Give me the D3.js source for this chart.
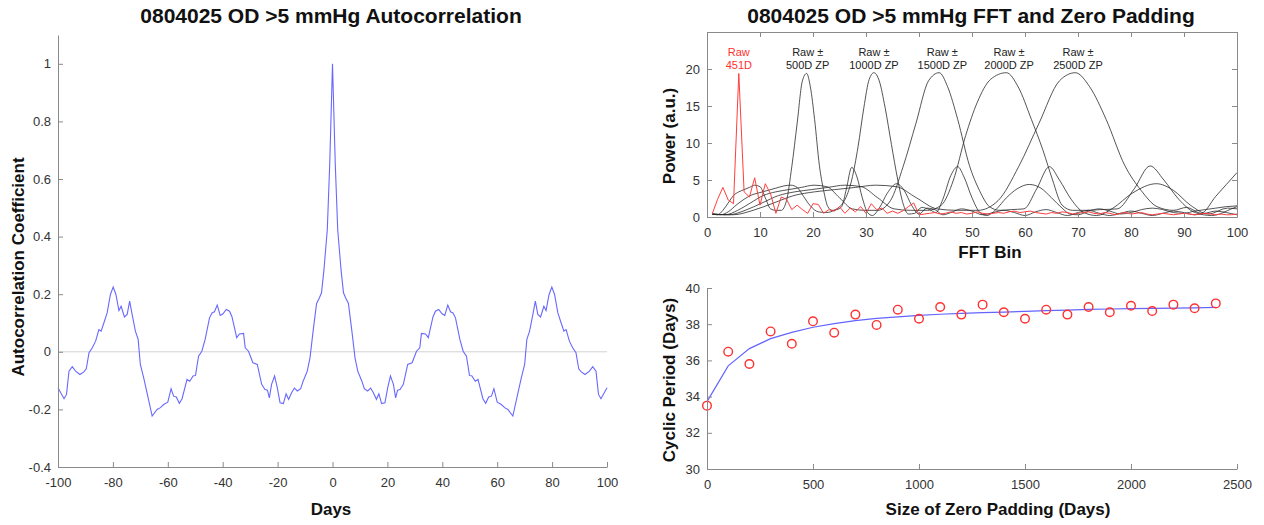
<!DOCTYPE html>
<html>
<head>
<meta charset="utf-8">
<script src="https://cdn.jsdelivr.net/npm/d3@7"></script>
<style>
body { margin: 0; background: #fff; }
text { font-family: "Liberation Sans", Arial, Helvetica, sans-serif; }
.axis path, .axis line { stroke: #8a8a8a; }
.axis text { fill: #333; font-size: 13px; }
.title { font-weight: bold; font-size: 21px; fill: #111; }
.label { font-weight: bold; font-size: 17px; fill: #111; }
.note { font-size: 11px; fill: #222; }
</style>
</head>
<body>
<div id="chart"></div>
<script>
// autocorrelation (days, coefficient)
const acfDays = [-100, -97.8, -96.9, -96, -94.8, -93.6, -92, -90.6, -89.7, -88.7, -87.5, -86.3, -85.1, -84.3, -83.3, -82.1,
    -80.9, -79.9, -78.9, -77.8, -77, -75.8, -74.8, -73.9, -73, -71.8, -70.8, -70, -68.8, -67.3, -65.7, -63.9, -62.7, -61.5,
    -60, -58.8, -57.9, -56.9, -55.8, -54.8, -53, -52, -50.8, -49.9, -48.8, -47.6, -46.4, -44.8, -43.9, -43, -42, -40.9,
    -39.9, -38.7, -37.5, -36.6, -34.9, -33.9, -32.4, -31.8, -30.6, -29, -27.4, -25.8, -24.6, -23.7, -23, -22.2, -21.1,
    -20.1, -19.1, -17.9, -16.9, -16, -14.9, -13.9, -12.8, -11.6, -10.7, -9.2, -8.2, -7, -5.8, -4.8, -4, -3.1, -1.9, -1, 0,
    1, 1.9, 3.1, 4, 4.8, 5.8, 7, 8.2, 9.2, 10.7, 11.6, 12.8, 13.9, 14.9, 16, 16.9, 17.9, 19.1, 20.1, 21.1, 22.2, 23, 23.7,
    24.6, 25.8, 27.4, 29, 30.6, 31.8, 32.4, 33.9, 34.9, 36.6, 37.5, 38.7, 39.9, 40.9, 42, 43, 43.9, 44.8, 46.4, 47.6, 48.8,
    49.9, 50.8, 52, 53, 54.8, 55.8, 56.9, 57.9, 58.8, 60, 61.5, 62.7, 63.9, 65.7, 67.3, 68.8, 70, 70.8, 71.8, 73, 73.9,
    74.8, 75.8, 77, 77.8, 78.9, 79.9, 80.9, 82.1, 83.3, 84.3, 85.1, 86.3, 87.5, 88.7, 89.7, 90.6, 92, 93.6, 94.8, 96,
    96.9, 97.8, 100];
const acfValues = [-0.125, -0.163, -0.148, -0.067, -0.052, -0.067, -0.079, -0.07, -0.059, -0.003, 0.014, 0.037, 0.077,
    0.072, 0.1, 0.135, 0.199, 0.225, 0.199, 0.143, 0.158, 0.121, 0.13, 0.176, 0.13, 0.072, 0.043, -0.044, -0.09, -0.154,
    -0.223, -0.2, -0.194, -0.183, -0.175, -0.128, -0.154, -0.157, -0.179, -0.163, -0.096, -0.102, -0.084, -0.082, -0.015,
    0.002, 0.043, 0.118, 0.135, 0.139, 0.162, 0.126, 0.132, 0.147, 0.141, 0.121, 0.049, 0.062, 0.064, 0.014, 0.002,
    -0.038, -0.044, -0.113, -0.131, -0.133, -0.16, -0.113, -0.084, -0.125, -0.177, -0.18, -0.146, -0.165, -0.142, -0.126,
    -0.136, -0.128, -0.102, -0.067, -0.021, 0.077, 0.168, 0.187, 0.205, 0.286, 0.424, 0.655, 1.0,
    0.655, 0.424, 0.286, 0.205, 0.187, 0.168, 0.077, -0.021, -0.067, -0.102, -0.128, -0.136, -0.126, -0.142, -0.165,
    -0.146, -0.18, -0.177, -0.125, -0.084, -0.113, -0.16, -0.133, -0.131, -0.113, -0.044, -0.038, 0.002, 0.014, 0.064,
    0.062, 0.049, 0.121, 0.141, 0.147, 0.132, 0.126, 0.162, 0.139, 0.135, 0.118, 0.043, 0.002, -0.015, -0.082, -0.084,
    -0.102, -0.096, -0.163, -0.179, -0.157, -0.154, -0.128, -0.175, -0.183, -0.194, -0.2, -0.223, -0.154, -0.09, -0.044,
    0.043, 0.072, 0.13, 0.176, 0.13, 0.121, 0.158, 0.143, 0.199, 0.225, 0.199, 0.135, 0.1, 0.072, 0.077, 0.037, 0.014,
    -0.003, -0.059, -0.07, -0.079, -0.067, -0.052, -0.067, -0.148, -0.163, -0.125];
const acfTicksX = [-100, -80, -60, -40, -20, 0, 20, 40, 60, 80, 100];
const acfTicksY = [-0.4, -0.2, 0, 0.2, 0.4, 0.6, 0.8, 1];

// raw FFT, bins 1..100
const rawPower = [0.45, 2.4, 4.0, 2.3, 1.8, 19.4, 3.4, 2.7, 5.3, 1.6,
    4.5, 3.1, 0.5, 2.7, 2.4, 1.0, 1.6, 1.0, 0.5, 1.8,
    1.7, 0.5, 1.0, 0.8, 1.4, 0.5, 1.2, 0.7, 1.4, 0.5,
    1.8, 1.0, 1.2, 0.5, 0.8, 0.5, 0.85, 1.4, 1.9, 0.3,
    0.4, 0.5, 0.6, 0.4, 0.5, 0.7, 0.5, 0.6, 0.4, 0.5,
    0.7, 0.5, 0.4, 0.5, 0.6, 0.5, 0.7, 0.8, 0.6, 0.7,
    0.8, 0.6, 0.5, 0.4, 0.6, 0.5, 0.7, 0.6, 0.4, 0.5,
    0.6, 0.7, 0.5, 0.4, 0.6, 0.5, 0.3, 0.5, 0.6, 0.4,
    0.5, 0.6, 0.4, 0.3, 0.4, 0.5, 0.4, 0.3, 0.4, 0.5,
    0.4, 0.3, 0.4, 0.5, 0.4, 0.3, 0.4, 0.3, 0.3, 0.4];

// zero padded spectra [bin, power]
const zp500 = [[1, 0.4], [2, 0.3], [3, 0.9], [4, 1.9], [5, 2.9], [6, 3.4], [7, 3.7], [8, 4.0], [9, 4.3], [10, 4.1],
    [11, 2.6], [12, 1.1], [13, 0.9], [14, 0.9], [15, 2.2], [16, 6.8], [17, 12.6], [18, 18.4], [18.8, 19.4], [19.5, 17.6],
    [20.3, 13.2], [21.2, 7.0], [22, 3.6], [22.8, 1.4], [23.6, 0.9], [24.5, 1.0], [25.4, 1.4], [26.3, 3.8], [27.3, 6.7],
    [28.3, 5.4], [29.3, 2.6], [30.3, 0.6], [31.2, 0.2], [32.5, 1.2], [34, 3.2], [35.8, 4.5], [37.2, 3.6], [38.6, 1.6],
    [40, 0.4], [41.5, 1.2], [43, 1.0], [44.5, 0.3], [46, 0.6], [48, 1.1], [50, 0.8], [52, 0.3], [54, 0.6], [56, 0.9],
    [58, 0.6], [60, 0.2], [62, 0.7], [64, 1.0], [66, 0.6], [68, 0.2], [70, 0.6], [72, 0.9], [74, 0.5], [76, 0.2],
    [78, 0.5], [80, 0.8], [82, 0.5], [84, 0.2], [86, 0.5], [88, 0.8], [90, 0.6], [92, 0.3], [94, 0.5], [96, 0.8],
    [98, 0.6], [100, 0.3]];
const zp1000 = [[1, 0.4], [2.5, 0.3], [4, 0.7], [5.5, 1.6], [7, 2.4], [8.5, 3.0], [10, 3.3], [11.5, 3.6], [13, 3.9],
    [14.5, 4.2], [15.8, 4.3], [17, 4.0], [18.2, 2.8], [19.5, 1.5], [21, 0.7], [22.5, 0.6], [24, 0.9], [25.2, 1.5],
    [26.2, 2.6], [27.3, 5.0], [28.5, 9.5], [29.6, 14.8], [30.6, 18.6], [31.5, 19.5], [32.5, 18.4], [33.6, 14.8],
    [34.8, 9.8], [36, 5.0], [37, 1.8], [38, 0.4], [39.2, 0.5], [40.5, 1.3], [42, 1.0], [43.2, 0.6], [44.5, 2.4],
    [46, 5.6], [47.3, 6.8], [48.5, 5.4], [50, 2.6], [51.5, 0.6], [52.8, 0.2], [54.5, 1.0], [56.5, 2.6], [58.5, 3.8],
    [60.8, 4.4], [63, 3.9], [65, 2.6], [67, 1.2], [68.5, 0.4], [70, 0.3], [72, 0.8], [74, 1.1], [76, 0.8], [78, 0.4],
    [80, 0.6], [82, 1.0], [84, 1.2], [86, 1.0], [88, 0.6], [90, 0.5], [92, 0.8], [94, 1.0], [96, 1.2], [98, 1.4],
    [100, 1.5]];
const zp1500 = [[1, 0.4], [3.4, 0.3], [5.8, 0.9], [8.2, 1.9], [10.6, 2.9], [13, 3.4], [15.4, 3.7], [17.8, 4.0],
    [20.2, 4.3], [22.6, 4.1], [25, 2.6], [27.4, 1.1], [29.8, 0.9], [32.2, 0.9], [34.6, 2.2], [37, 6.8], [39.4, 12.6],
    [41.8, 18.4], [43.8, 19.5], [45.4, 17.6], [47.3, 13.2], [49.5, 7.0], [51.4, 3.6], [53.3, 1.4], [55.2, 0.9],
    [57.4, 1.0], [59.8, 1.1], [62.2, 3.8], [64.6, 6.8], [66.5, 5.0], [68.7, 2.4], [71.1, 0.6], [73.5, 0.2], [76.6, 1.2],
    [80.2, 3.2], [84.8, 4.5], [88, 3.6], [91.2, 1.6], [94.6, 0.4], [98.2, 1.2], [100, 1.1]];
const zp2000 = [[1, 0.4], [4.1, 0.3], [7.2, 0.9], [10.4, 1.9], [13.5, 2.9], [16.6, 3.4], [19.7, 3.7], [22.8, 4.0],
    [26, 4.3], [29.1, 4.1], [32.2, 2.6], [35.3, 1.1], [38.4, 0.9], [41.6, 0.9], [44.2, 1.6], [46.5, 5.0], [48.8, 11.0],
    [51, 15.5], [53.5, 18.6], [56.5, 19.5], [58.7, 17.6], [61.2, 13.2], [63.4, 9.0], [65.2, 5.0], [67, 1.6], [69, 0.9],
    [71.5, 0.9], [74.3, 1.0], [77.4, 1.1], [80.6, 3.8], [83.6, 6.9], [86.2, 5.0], [89, 2.4], [92.1, 0.6], [95.2, 0.2],
    [99.3, 1.2], [100, 1.4]];
const zp2500 = [[1, 0.4], [4.9, 0.3], [8.7, 0.9], [12.6, 1.9], [16.4, 2.9], [20.3, 3.4], [24.1, 3.7], [28, 4.0],
    [31.8, 4.3], [35.7, 4.1], [39.5, 2.6], [43.4, 1.1], [47.2, 0.9], [51.1, 0.9], [54.9, 2.2], [58.8, 6.8], [62.6, 12.6],
    [66.5, 18.4], [69.5, 19.5], [72.2, 17.6], [75.3, 13.2], [78.8, 7.0], [81.9, 3.6], [84.9, 1.4], [88, 0.9],
    [90.5, 1.3], [93.2, 0.5], [96, 2.8], [98, 4.4], [100, 6.0]];
const fftTicksX = [0, 10, 20, 30, 40, 50, 60, 70, 80, 90, 100];
const fftTicksY = [0, 5, 10, 15, 20];
const peakLabels = [
    { bin: 6, lines: ["Raw", "451D"], raw: true },
    { bin: 19, lines: ["Raw \u00b1", "500D ZP"] },
    { bin: 31.5, lines: ["Raw \u00b1", "1000D ZP"] },
    { bin: 44.4, lines: ["Raw \u00b1", "1500D ZP"] },
    { bin: 57, lines: ["Raw \u00b1", "2000D ZP"] },
    { bin: 70, lines: ["Raw \u00b1", "2500D ZP"] }
];

// cyclic period vs zero padding
const padSize = [0, 100, 200, 300, 400, 500, 600, 700, 800, 900, 1000, 1100, 1200, 1300, 1400, 1500, 1600, 1700,
    1800, 1900, 2000, 2100, 2200, 2300, 2400];
const padPeriod = [33.5, 36.48, 35.8, 37.6, 36.92, 38.16, 37.53, 38.53, 37.96, 38.8, 38.3, 38.95, 38.53, 39.08, 38.66,
    38.3, 38.8, 38.53, 38.95, 38.66, 39.02, 38.73, 39.08, 38.88, 39.15];
const padFit = [33.72, 35.7, 36.65, 37.2, 37.55, 37.83, 38.03, 38.2, 38.32, 38.41, 38.49, 38.55, 38.6, 38.64, 38.67,
    38.71, 38.75, 38.78, 38.82, 38.84, 38.86, 38.87, 38.89, 38.9, 38.93];
const padTicksX = [0, 500, 1000, 1500, 2000, 2500];
const padTicksY = [30, 32, 34, 36, 38, 40];

const svg = d3.select('#chart')
    .append('svg')
    .attr('width', 1264)
    .attr('height', 525);

const fmt = d => String(d);

function bottomAxis(y0, scale, ticks) {
    svg.append('g')
        .attr('class', 'axis')
        .attr('transform', `translate(0,${y0})`)
        .call(d3.axisBottom(scale).tickValues(ticks).tickFormat(fmt)
            .tickSizeInner(-5).tickSizeOuter(0).tickPadding(11));
}

function leftAxis(x0, scale, ticks) {
    svg.append('g')
        .attr('class', 'axis')
        .attr('transform', `translate(${x0},0)`)
        .call(d3.axisLeft(scale).tickValues(ticks).tickFormat(fmt)
            .tickSizeInner(-5).tickSizeOuter(0).tickPadding(7));
}

// ---- left: autocorrelation ----
const xA = d3.scaleLinear().domain([-100, 100]).range([58, 607]);
const yA = d3.scaleLinear().domain([-0.4, 1.1]).range([467, 35]);

svg.append('line')
    .attr('x1', xA(-100)).attr('x2', xA(100))
    .attr('y1', yA(0)).attr('y2', yA(0))
    .attr('stroke', '#d2d2d2');

svg.append('path')
    .datum(acfDays.map((d, i) => [d, acfValues[i]]))
    .attr('fill', 'none')
    .attr('stroke', '#6868ff')
    .attr('stroke-width', 1.1)
    .attr('d', d3.line().x(d => xA(d[0])).y(d => yA(d[1])));

bottomAxis(467, xA, acfTicksX);
leftAxis(58, yA, acfTicksY);

svg.append('text').attr('class', 'title').attr('x', 331).attr('y', 23)
    .attr('text-anchor', 'middle').text('0804025 OD >5 mmHg Autocorrelation');
svg.append('text').attr('class', 'label').attr('x', 331).attr('y', 515)
    .attr('text-anchor', 'middle').text('Days');
svg.append('text').attr('class', 'label')
    .attr('transform', 'translate(24,267) rotate(-90)')
    .attr('text-anchor', 'middle').text('Autocorrelation Coefficient');

// ---- top right: FFT and zero padding ----
const xF = d3.scaleLinear().domain([0, 100]).range([707, 1237]);
const yF = d3.scaleLinear().domain([0, 25]).range([217, 32]);

const fftLine = d3.line().x(d => xF(d[0])).y(d => yF(d[1])).curve(d3.curveMonotoneX);

svg.append('g')
    .selectAll('path')
    .data([zp500, zp1000, zp1500, zp2000, zp2500])
    .enter().append('path')
    .attr('fill', 'none')
    .attr('stroke', '#2a2a2a')
    .attr('stroke-opacity', 0.8)
    .attr('stroke-width', 1)
    .attr('d', fftLine);

svg.append('path')
    .datum(rawPower.map((v, i) => [i + 1, v]))
    .attr('fill', 'none')
    .attr('stroke', '#ff3d3d')
    .attr('stroke-width', 1)
    .attr('d', d3.line().x(d => xF(d[0])).y(d => yF(d[1])));

bottomAxis(217, xF, fftTicksX);
leftAxis(707, yF, fftTicksY);
svg.append('g').attr('class', 'axis').attr('transform', 'translate(0,32)')
    .call(d3.axisTop(xF).tickValues(fftTicksX).tickFormat('').tickSizeInner(-5).tickSizeOuter(0));
svg.append('g').attr('class', 'axis').attr('transform', 'translate(1237,0)')
    .call(d3.axisRight(yF).tickValues(fftTicksY).tickFormat('').tickSizeInner(-5).tickSizeOuter(0));

const notes = svg.append('g')
    .selectAll('text')
    .data(peakLabels)
    .enter().append('text')
    .attr('class', 'note')
    .attr('text-anchor', 'middle')
    .style('fill', d => d.raw ? '#ff3030' : '#222');
notes.each(function (d) {
    d3.select(this).selectAll('tspan')
        .data(d.lines)
        .enter().append('tspan')
        .attr('x', xF(d.bin))
        .attr('y', (t, i) => 56 + i * 12.5)
        .text(t => t);
});

svg.append('text').attr('class', 'title').attr('x', 971).attr('y', 23)
    .attr('text-anchor', 'middle').text('0804025 OD >5 mmHg FFT and Zero Padding');
svg.append('text').attr('class', 'label').attr('x', 990).attr('y', 258)
    .attr('text-anchor', 'middle').text('FFT Bin');
svg.append('text').attr('class', 'label')
    .attr('transform', 'translate(675,136) rotate(-90)')
    .attr('text-anchor', 'middle').text('Power (a.u.)');

// ---- bottom right: cyclic period ----
const xP = d3.scaleLinear().domain([0, 2500]).range([707, 1237]);
const yP = d3.scaleLinear().domain([30, 40]).range([469, 288]);

svg.append('path')
    .datum(padSize.map((d, i) => [d, padFit[i]]))
    .attr('fill', 'none')
    .attr('stroke', '#6464ff')
    .attr('stroke-width', 1.2)
    .attr('d', d3.line().x(d => xP(d[0])).y(d => yP(d[1])));

svg.append('g')
    .selectAll('circle')
    .data(padSize.map((d, i) => [d, padPeriod[i]]))
    .enter().append('circle')
    .attr('cx', d => xP(d[0]))
    .attr('cy', d => yP(d[1]))
    .attr('r', 4.3)
    .attr('fill', 'none')
    .attr('stroke', '#ff3030')
    .attr('stroke-width', 1.4);

bottomAxis(469, xP, padTicksX);
leftAxis(707, yP, padTicksY);

svg.append('text').attr('class', 'label').attr('x', 998).attr('y', 515)
    .attr('text-anchor', 'middle').text('Size of Zero Padding (Days)');
svg.append('text').attr('class', 'label')
    .attr('transform', 'translate(675,380) rotate(-90)')
    .attr('text-anchor', 'middle').text('Cyclic Period (Days)');
</script>
</body>
</html>
